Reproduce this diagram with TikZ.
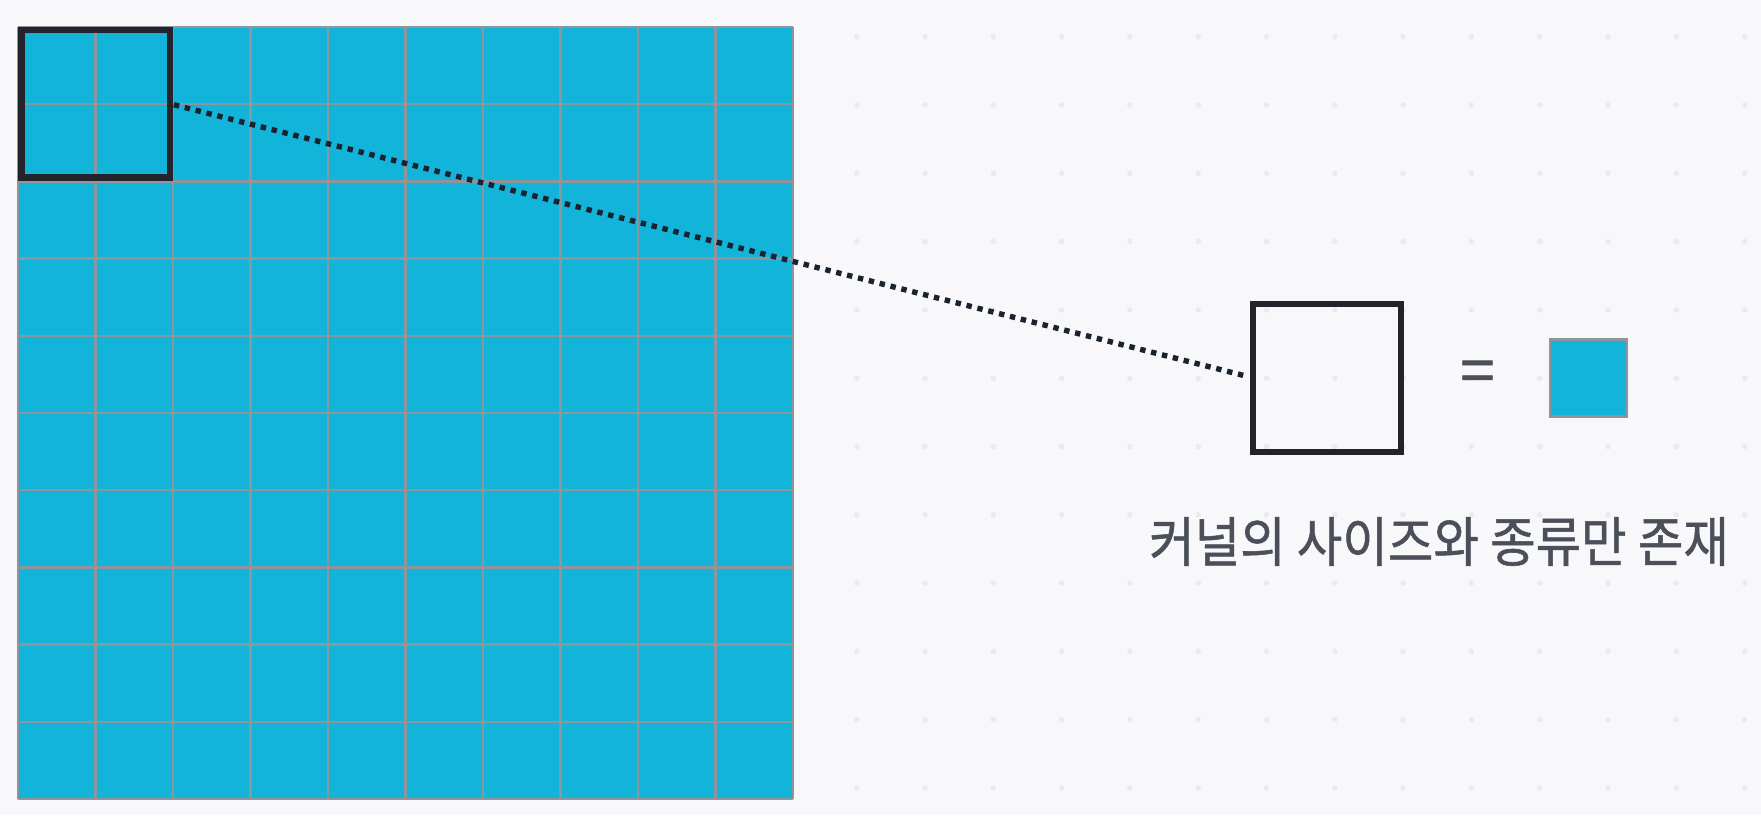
\documentclass[tikz,border=0pt]{standalone}
\usepackage{fontspec}
\newfontfamily\krfont[FakeBold=1.0]{Noto Sans CJK KR}
\definecolor{bgc}{HTML}{F8F8FB}
\definecolor{dotc}{HTML}{EAEBF1}
\definecolor{cyanc}{HTML}{12B5D9}
\definecolor{gridc}{HTML}{8E959C}
\definecolor{darkc}{HTML}{24232B}
\definecolor{dotlc}{HTML}{1A2230}
\definecolor{textc}{HTML}{4A4F5A}
\tikzset{
  gridline/.style={draw=gridc, line width=2.4pt},
  kbox/.style={draw=darkc, line width=6.5pt, inner sep=0pt, outer sep=0pt, rectangle},
  dotline/.style={draw=dotlc, line width=5.4pt, dash pattern=on 5.4pt off 5.8pt},
  cellbox/.style={draw=gridc, fill=cyanc, line width=2.4pt, inner sep=0pt, minimum size=77pt, rectangle},
  lbl/.style={text=textc, inner sep=0pt, font=\krfont}
}
\begin{document}
\begin{tikzpicture}[x=1pt,y=-1pt]
\fill[bgc] (0,0) rectangle (1761,815);
\useasboundingbox (0,0) rectangle (1761,815);
% background dots
\foreach \i in {0,...,13} {
  \foreach \j in {0,...,11} {
    \fill[dotc] (856.7+68.3*\i, 36.7+68.3*\j) circle (2.8pt);
  }
}
% grid
\fill[cyanc] (18,27) rectangle (793,799);
\foreach \i in {0,...,10} {
  \draw[gridline] (18+77.5*\i,27) -- (18+77.5*\i,799);
  \draw[gridline] (18,27+77.2*\i) -- (793,27+77.2*\i);
}
% kernel box
\node[kbox, minimum width=148.5pt, minimum height=147.5pt] (kernel) at (95.75,103.75) {};
% big box
\node[kbox, line width=6pt, minimum width=148.5pt, minimum height=148pt] (bigbox) at (1327,377.75) {};
% small cell
\node[cellbox] (cell) at (1588.5,378) {};
% equals
\node[lbl, font=\krfont\fontsize{62}{70}\selectfont] (eq) at (1477.5,377) {=};
% label
\node[lbl, font=\krfont\fontsize{50}{60}\selectfont] (label) at (1439,541.5) {\scalebox{0.99}[1.08]{커널의 사이즈와 종류만 존재}};
% dotted connector
\draw[dotline, shorten <=4pt, shorten >=9pt] (kernel.east) -- (bigbox.west);
\end{tikzpicture}
\end{document}
